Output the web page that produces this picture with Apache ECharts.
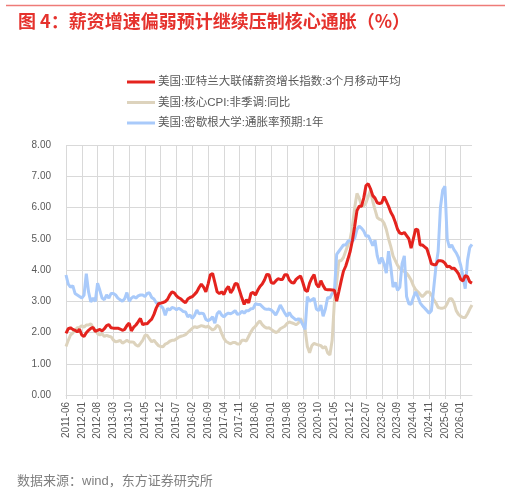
<!DOCTYPE html>
<html>
<head>
<meta charset="utf-8">
<script src="https://cdn.jsdelivr.net/npm/echarts@6/dist/echarts.min.js"></script>
<style>
html, body { margin: 0; padding: 0; background: #fff; }
#main { width: 511px; height: 504px; }
</style>
</head>
<body>
<div id="main"></div>
<script>
// 月度数据 2011-06 ~ 2026-06
const startYear = 2011, startMonth = 6, monthCount = 181;
const months = [];
for (let k = 0; k < monthCount; k++) {
    const m = startMonth - 1 + k;
    months.push((startYear + Math.floor(m / 12)) + '-' + String(m % 12 + 1).padStart(2, '0'));
}

const seriesNames = [
    '美国:亚特兰大联储薪资增长指数:3个月移动平均',
    '美国:核心CPI:非季调:同比',
    '美国:密歇根大学:通胀率预期:1年'
];

// 亚特兰大联储薪资增长
const wageGrowth = [
    1.97,2.12,2.15,2.1,2.07,2.02,2.1,1.92,1.87,1.99,
    2.07,2.13,2.16,2.03,2.07,2.1,2.05,2.12,2.22,2.25,
    2.15,2.14,2.14,2.14,2.11,2.07,2.1,2.22,2.3,2.05,
    2.17,2.24,2.34,2.45,2.25,2.28,2.28,2.36,2.43,2.58,
    2.78,2.92,2.94,2.96,2.99,3.06,3.2,3.3,3.27,3.17,
    3.11,3.07,3.0,2.95,3.07,3.12,3.15,3.22,3.3,3.44,
    3.55,3.45,3.3,3.55,3.85,3.89,3.6,3.3,3.25,3.3,
    3.22,3.38,3.47,3.27,3.38,3.57,3.55,3.33,3.1,2.9,
    3.05,2.95,3.25,3.28,3.2,3.35,3.47,3.55,3.68,3.86,
    3.85,3.6,3.57,3.65,3.72,3.7,3.7,3.85,3.85,3.68,
    3.6,3.58,3.7,3.76,3.81,3.6,3.36,3.31,3.58,3.74,
    3.85,3.55,3.45,3.66,3.5,3.38,3.37,3.37,3.36,3.35,
    3.0,3.32,3.65,3.96,4.12,4.35,4.6,4.95,5.4,5.9,
    6.04,6.04,6.3,6.7,6.76,6.6,6.38,6.3,6.15,6.13,
    6.15,6.35,6.2,6.04,5.85,5.72,5.53,5.3,5.18,5.16,
    5.2,5.1,5.0,4.7,5.0,5.31,5.28,4.8,4.8,4.74,
    4.68,4.45,4.2,4.17,4.17,4.3,4.3,4.28,4.22,4.1,
    4.12,4.05,4.06,3.98,3.88,3.7,3.65,3.82,3.79,3.62,
    3.58
];

// 核心CPI同比
const coreCpi = [
    1.55,1.75,1.92,1.98,2.07,2.15,2.16,2.22,2.17,2.24,
    2.24,2.28,2.16,2.08,1.96,1.92,1.96,1.87,1.91,1.88,
    1.86,1.76,1.7,1.72,1.75,1.66,1.7,1.75,1.7,1.7,
    1.69,1.6,1.56,1.65,1.75,1.91,1.91,1.8,1.7,1.75,
    1.66,1.58,1.55,1.54,1.63,1.66,1.72,1.75,1.75,1.8,
    1.85,1.88,1.9,1.93,2.0,2.07,2.13,2.19,2.16,2.19,
    2.22,2.2,2.17,2.2,2.14,2.08,2.12,2.23,2.18,1.97,
    1.81,1.71,1.67,1.64,1.68,1.68,1.63,1.63,1.75,1.75,
    1.73,1.88,2.02,2.13,2.2,2.3,2.37,2.25,2.18,2.14,
    2.15,2.1,2.05,2.0,2.03,2.12,2.16,2.2,2.29,2.34,
    2.31,2.29,2.25,2.3,2.45,2.3,2.1,1.55,1.35,1.58,
    1.65,1.62,1.6,1.58,1.5,1.55,1.35,1.28,1.75,3.0,
    3.6,4.3,4.3,4.4,4.6,4.8,5.0,5.4,6.0,6.45,
    6.3,6.05,6.05,6.15,6.35,6.55,6.2,5.93,5.68,5.62,
    5.6,5.5,5.3,5.0,4.75,4.45,4.3,4.15,4.05,4.0,
    3.95,3.9,3.8,3.68,3.5,3.37,3.3,3.22,3.15,3.22,
    3.3,3.3,3.2,3.05,2.95,2.8,2.78,2.78,2.8,2.92,
    3.08,3.08,2.95,2.7,2.58,2.52,2.48,2.48,2.6,2.75,
    2.88
];

// 密歇根1年通胀预期
const michigan1y = [
    3.84,3.55,3.45,3.5,3.25,3.2,3.15,3.1,3.2,3.88,
    3.3,2.98,3.1,3.0,3.58,3.35,3.1,3.05,3.2,3.1,
    3.25,3.25,3.2,3.1,3.05,3.0,3.08,3.28,3.0,3.1,
    3.15,3.1,3.17,3.2,3.2,3.15,3.25,3.27,3.12,3.07,
    2.95,2.9,2.85,2.78,2.55,2.77,2.72,2.8,2.78,2.73,
    2.78,2.73,2.67,2.66,2.5,2.56,2.45,2.55,2.72,2.6,
    2.62,2.6,2.42,2.38,2.42,2.5,2.3,2.6,2.68,2.56,
    2.5,2.58,2.62,2.6,2.64,2.7,2.58,2.6,2.68,2.62,
    2.7,2.7,2.76,2.77,2.92,2.9,2.9,2.83,2.76,2.74,
    2.75,2.72,2.65,2.56,2.7,2.88,2.75,2.62,2.52,2.64,
    2.52,2.46,2.4,2.44,2.38,2.25,2.1,3.15,3.0,3.05,
    3.1,2.75,2.7,2.88,2.52,2.75,3.12,3.1,3.25,3.3,
    4.5,4.6,4.7,4.8,4.8,4.92,4.95,4.92,5.02,5.3,
    5.4,5.34,5.25,5.08,5.1,4.95,4.78,4.95,4.45,4.2,
    4.4,4.2,3.9,4.6,4.1,3.45,3.6,3.35,3.45,4.2,
    4.45,3.15,2.92,2.9,3.12,3.3,3.15,2.95,2.85,2.78,
    2.7,2.62,2.7,3.4,4.1,4.6,6.0,6.55,6.68,5.0,
    4.72,4.8,4.65,4.55,4.4,4.15,3.8,3.4,4.3,4.72,
    4.82
];

const colors = ['#e4231e', '#ddd3bd', '#a9cafa'];
const labelFont = '"Liberation Sans", Arial, "Noto Sans CJK SC", sans-serif';

const chart = echarts.init(document.getElementById('main'), null, { renderer: 'canvas' });

chart.setOption({
    animation: false,
    backgroundColor: '#fff',
    title: [{
        text: '图 4：薪资增速偏弱预计继续压制核心通胀（%）',
        left: 13,
        top: 7,
        textStyle: {
            color: '#e5322d',
            fontSize: 18,
            fontWeight: 'bold',
            fontFamily: '"Noto Sans CJK SC", sans-serif'
        }
    }, {
        text: '数据来源：wind，东方证券研究所',
        left: 12,
        top: 470,
        textStyle: {
            color: '#7f7f7f',
            fontSize: 13,
            fontWeight: 'normal',
            fontFamily: labelFont
        }
    }],
    graphic: [{
        type: 'line',
        shape: { x1: 6, y1: 5.5, x2: 505, y2: 5.5 },
        style: { stroke: '#ee7b78', lineWidth: 1.5 }
    }],
    legend: {
        orient: 'vertical',
        left: 127,
        top: 75,
        padding: 0,
        icon: 'rect',
        itemWidth: 28,
        itemHeight: 3,
        itemGap: 6.5,
        textStyle: {
            color: '#595959',
            fontSize: 11.5,
            lineHeight: 14,
            padding: [0, 0, 0, -2],
            fontFamily: labelFont
        },
        data: seriesNames
    },
    grid: {
        left: 66,
        right: 39,
        top: 145,
        bottom: 109,
        containLabel: false
    },
    xAxis: {
        type: 'category',
        data: months,
        boundaryGap: false,
        axisLine: { lineStyle: { color: '#d9d9d9' } },
        axisTick: { show: true, interval: 6, length: 4, lineStyle: { color: '#d9d9d9' } },
        axisLabel: {
            interval: 6,
            rotate: 90,
            margin: 7,
            color: '#595959',
            fontSize: 10,
            fontFamily: labelFont
        },
        splitLine: { show: true, interval: 6, lineStyle: { color: '#d9d9d9', width: 1 } }
    },
    yAxis: {
        type: 'value',
        min: 0,
        max: 8,
        interval: 1,
        axisLine: { show: false },
        axisTick: { show: false },
        axisLabel: {
            margin: 15,
            color: '#595959',
            fontSize: 10,
            fontFamily: labelFont,
            formatter: v => v.toFixed(2)
        },
        splitLine: { lineStyle: { color: '#d9d9d9', width: 1 } }
    },
    series: [
        { name: seriesNames[0], type: 'line', data: wageGrowth, symbol: 'none', lineStyle: { color: colors[0], width: 3 }, itemStyle: { color: colors[0] }, z: 3 },
        { name: seriesNames[1], type: 'line', data: coreCpi, symbol: 'none', lineStyle: { color: colors[1], width: 3 }, itemStyle: { color: colors[1] }, z: 2 },
        { name: seriesNames[2], type: 'line', data: michigan1y, symbol: 'none', lineStyle: { color: colors[2], width: 3 }, itemStyle: { color: colors[2] }, z: 2 }
    ]
});
</script>
</body>
</html>
